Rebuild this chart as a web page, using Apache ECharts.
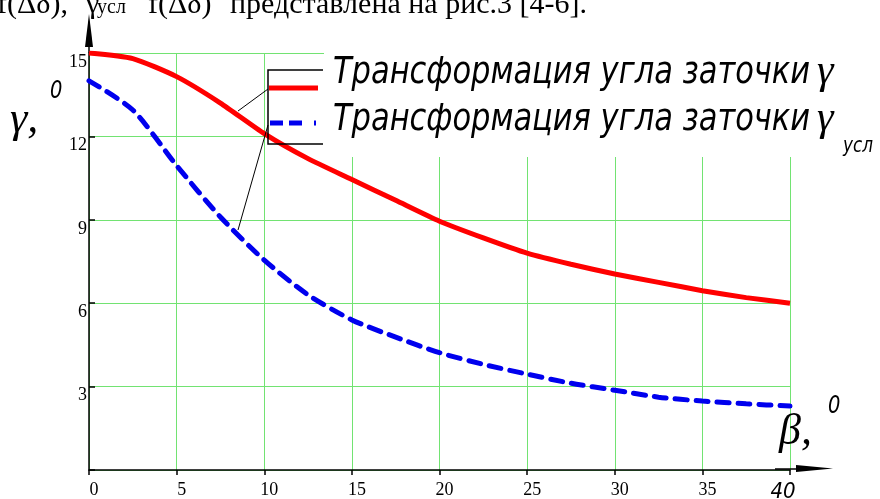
<!DOCTYPE html>
<html><head><meta charset="utf-8">
<script src="https://cdn.jsdelivr.net/npm/echarts@6/dist/echarts.min.js"></script>
<style>html,body{margin:0;padding:0;background:#fff;overflow:hidden}#c{width:880px;height:499px}</style>
</head><body><div id="c"></div>
<script>
// data
const beta = [0, 2.5, 5, 7.5, 10, 12.5, 15, 17.5, 20, 22.5, 25, 27.5, 30, 32.5, 35, 37.5, 40];
const gamma = [15, 14.8, 14.15, 13.2, 12.1, 11.2, 10.45, 9.7, 8.95, 8.35, 7.8, 7.4, 7.05, 6.75, 6.45, 6.2, 6.0];
const gammaUsl = [14.0, 12.95, 10.95, 9.1, 7.55, 6.3, 5.4, 4.78, 4.22, 3.8, 3.45, 3.12, 2.87, 2.62, 2.48, 2.38, 2.3];
const xTickLabels = ['0', '5', '10', '15', '20', '25', '30', '35', '40'];
const yTickLabels = ['0', '3', '6', '9', '12', '15'];
const legendWords = 'Трансформация угла заточки';

const GOSTFAM = '"Liberation Sans Narrow","DejaVu Sans Condensed","DejaVu Sans",sans-serif';
const SERIF = '"Liberation Serif","Times New Roman",serif';
const GREEN = '#72e372';

const chart = echarts.init(document.getElementById('c'), null, {renderer: 'canvas'});
const pair = arr => beta.map((b, i) => [b, arr[i]]);

chart.setOption({
  animation: false,
  backgroundColor: '#fff',
  grid: {left: 89, right: 90, top: 53, bottom: 29, outerBoundsMode: 'none', containLabel: false},
  xAxis: {
    type: 'value', min: 0, max: 40, interval: 5,
    axisLine: {show: true, onZero: false, lineStyle: {color: '#000', width: 1.5}},
    axisTick: {show: true, inside: false, length: 5, lineStyle: {color: '#000', width: 1.5}},
    splitLine: {show: true, lineStyle: {color: GREEN, width: 1}},
    axisLabel: {
      margin: 11, color: '#000', fontFamily: SERIF, fontSize: 18, padding: [0, 0, 0, 10],
      formatter: v => {
        const s = xTickLabels[Math.round(v / 5)];
        return v === 40 ? '{it|' + s + '}' : s;
      },
      rich: {it: {fontFamily: GOSTFAM, fontStyle: 'italic', fontWeight: 200, fontSize: 22, color: '#000', padding: [0, 24, 0, 0]}}
    }
  },
  yAxis: {
    type: 'value', min: 0, max: 15, interval: 3,
    axisLine: {show: true, onZero: false, lineStyle: {color: '#000', width: 1.5}},
    axisTick: {show: true, inside: true, length: 6, lineStyle: {color: '#000', width: 1.5}},
    splitLine: {show: true, lineStyle: {color: GREEN, width: 1}},
    axisLabel: {
      margin: 2, color: '#000', fontFamily: SERIF, fontSize: 18, verticalAlign: 'top',
      formatter: v => (v === 0 ? '' : yTickLabels[Math.round(v / 3)])
    }
  },
  series: [
    {type: 'line', data: pair(gamma), showSymbol: false, smooth: 0.2, z: 5,
     lineStyle: {color: '#ff0000', width: 5}},
    {type: 'line', data: pair(gammaUsl), showSymbol: false, smooth: 0.25, z: 5,
     lineStyle: {color: '#0000ee', width: 5, type: [12, 9], cap: 'round'}}
  ]
});

// measure legend words to fit the reference width
const mctx = document.createElement('canvas').getContext('2d');
mctx.font = 'italic 200 37px ' + GOSTFAM;
const wordsW = mctx.measureText(legendWords).width;
const sx = 477 / wordsW;

const g = [];
// white backdrop behind legend text
g.push({type: 'rect', z: 1, shape: {x: 268, y: 58, width: 612, height: 99}, style: {fill: '#fff'}});
g.push({type: 'rect', z: 1, shape: {x: 324, y: 46, width: 556, height: 14}, style: {fill: '#fff'}});
// y-axis extension and arrow
g.push({type: 'line', z: 3, shape: {x1: 89, y1: 53, x2: 89, y2: 44}, style: {stroke: '#000', lineWidth: 1.5}});
g.push({type: 'polygon', z: 3, shape: {points: [[85, 47], [89, 14], [93, 47]]}, style: {fill: '#000'}});
// x-axis extension and arrow
g.push({type: 'line', z: 3, shape: {x1: 775, y1: 469, x2: 800, y2: 469}, style: {stroke: '#000', lineWidth: 1.5}});
g.push({type: 'polygon', z: 3, shape: {points: [[796, 465], [833, 468.5], [796, 472]]}, style: {fill: '#000'}});
// legend bracket and samples
g.push({type: 'polyline', z: 10, shape: {points: [[323, 70], [268, 70], [268, 144], [323, 144]]}, style: {stroke: '#000', lineWidth: 1.5, fill: null}});
g.push({type: 'line', z: 10, shape: {x1: 269, y1: 88, x2: 318, y2: 88}, style: {stroke: '#ff0000', lineWidth: 5}});
g.push({type: 'line', z: 10, shape: {x1: 270, y1: 123, x2: 318, y2: 123}, style: {stroke: '#0000ee', lineWidth: 5, lineDash: [13, 6, 13, 12, 2, 100], lineCap: 'butt'}});
// leader lines
g.push({type: 'line', z: 10, shape: {x1: 268, y1: 89, x2: 238, y2: 111}, style: {stroke: '#000', lineWidth: 1}});
g.push({type: 'line', z: 10, shape: {x1: 268, y1: 125, x2: 238, y2: 230}, style: {stroke: '#000', lineWidth: 1}});
// legend texts
[84, 131].forEach((base, i) => {
  g.push({type: 'text', z: 10, x: 333, y: base - 11, scaleX: sx, style: {
    text: legendWords, fontFamily: GOSTFAM, fontStyle: 'italic', fontWeight: 200, fontSize: 37, fill: '#000', verticalAlign: 'middle'}});
  g.push({type: 'text', z: 10, x: 817, y: base - 12, style: {
    text: 'γ', fontFamily: SERIF, fontStyle: 'italic', fontSize: 42, fill: '#000', verticalAlign: 'middle'}});
});
g.push({type: 'text', z: 10, x: 843, y: 146, scaleX: 0.85, style: {
  text: 'усл', fontFamily: GOSTFAM, fontStyle: 'italic', fontWeight: 200, fontSize: 22, fill: '#000', verticalAlign: 'middle'}});
// axis names
g.push({type: 'text', z: 10, x: 10, y: 120, style: {text: 'γ,', fontFamily: SERIF, fontStyle: 'italic', fontSize: 44, fill: '#000', verticalAlign: 'middle'}});
g.push({type: 'text', z: 10, x: 50, y: 92, scaleX: 0.9, style: {text: '0', fontFamily: GOSTFAM, fontStyle: 'italic', fontWeight: 200, fontSize: 24, fill: '#000', verticalAlign: 'middle'}});
g.push({type: 'text', z: 10, x: 779, y: 432, style: {text: 'β,', fontFamily: SERIF, fontStyle: 'italic', fontSize: 44, fill: '#000', verticalAlign: 'middle'}});
g.push({type: 'text', z: 10, x: 828, y: 407, scaleX: 0.9, style: {text: '0', fontFamily: GOSTFAM, fontStyle: 'italic', fontWeight: 200, fontSize: 24, fill: '#000', verticalAlign: 'middle'}});
// clipped sentence at top of page (justified spacing)
const topPieces = [['f(Δδ),', -3, 30], ['γ', 86, 30], ['f(Δδ)', 148, 30], ['представлена на рис.3 [4-6].', 230, 30]];
topPieces.forEach(p => g.push({type: 'text', z: 10, x: p[1], y: 14 - 0.3 * p[2], style: {
  text: p[0], fontFamily: SERIF, fontSize: p[2], fill: '#000', verticalAlign: 'middle'}}));
g.push({type: 'text', z: 10, x: 97, y: 8, style: {text: 'усл', fontFamily: SERIF, fontSize: 20, fill: '#000', verticalAlign: 'middle'}});
chart.setOption({graphic: g});
</script></body></html>
